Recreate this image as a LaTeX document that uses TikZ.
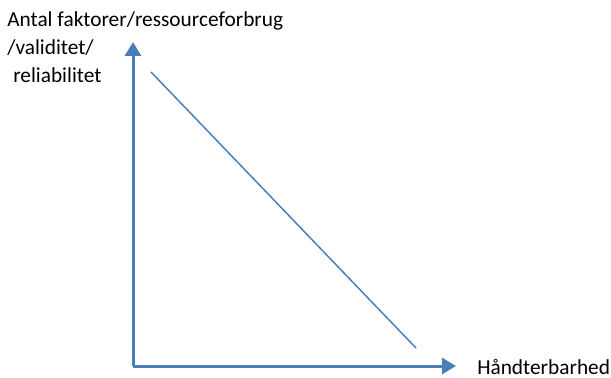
\documentclass[tikz,border=0pt]{standalone}
\usepackage{fontspec}
\setmainfont{Carlito}
\usetikzlibrary{arrows.meta}
\definecolor{axisblue}{HTML}{4A7EBB}
\tikzset{
  axis/.style={draw=axisblue, line width=2.25pt, -{Triangle[length=10.5pt,width=12pt]}},
  diag/.style={draw=axisblue, line width=1.1pt},
  lbl/.style={anchor=base west, inner sep=0pt, font=\fontsize{16pt}{21pt}\selectfont}
}
\begin{document}
\begin{tikzpicture}[x=0.75pt,y=-0.75pt]
\useasboundingbox (0,0) rectangle (611,378);
\coordinate (o) at (133,366);
\coordinate (ytip) at (133,42);
\coordinate (xtip) at (456,366);
\coordinate (d1) at (151,72);
\coordinate (d2) at (416,348);
\draw[axis] (o) -- (ytip);
\draw[axis] (o) -- (xtip);
\draw[diag] (d1) -- (d2);
\node[lbl] (l1) at (7,27) {Antal faktorer/ressourceforbrug};
\node[lbl] (l2) at (7,55) {/validitet/};
\node[lbl] (l3) at (13,83) {reliabilitet};
\node[lbl] (l4) at (477,374) {Håndterbarhed};
\end{tikzpicture}
\end{document}
